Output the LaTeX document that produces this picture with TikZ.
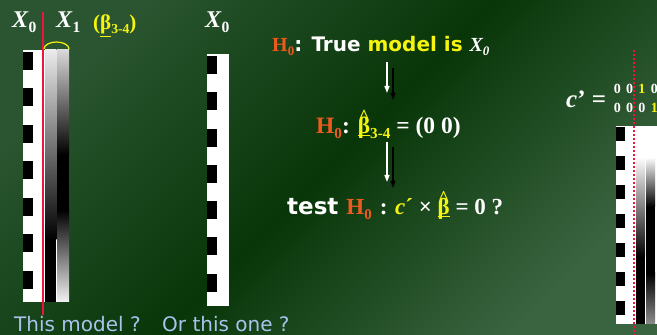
\documentclass[tikz,border=0pt]{standalone}
\usepackage{fontspec}
\setmainfont{Liberation Serif}
\setsansfont{DejaVu Sans}
\usepackage{graphicx}
\usepackage{tikz}
\usetikzlibrary{arrows.meta,positioning,calc}
\definecolor{bgTL}{HTML}{2A5530}
\definecolor{bgMid}{HTML}{083608}
\definecolor{bgBR}{HTML}{3A6440}
\definecolor{hOrange}{HTML}{EE5A1E}
\definecolor{hYellow}{HTML}{F5F50F}
\definecolor{capBlue}{HTML}{A9C3EC}
\definecolor{sepRed}{HTML}{F0143C}
\newcommand{\lsub}[1]{\raisebox{-0.4ex}{\scalebox{0.65}{#1}}}
\newcommand{\Xsym}[1]{\textit{X}\lsub{#1}}
\newcommand{\Hnull}{\textcolor{hOrange}{\rmfamily H\lsub{0}}}
\newcommand{\bhat}{\underline{\ooalign{β\cr\hidewidth\raisebox{0.5em}{\scalebox{0.8}{\textasciicircum}}\hidewidth\cr}}}
\newcommand{\dg}[1]{\makebox[12.3pt]{#1}}

\begin{document}
\begin{tikzpicture}[
  x=1pt, y=1pt,
  lbl/.style={font=\fontsize{23.5}{27}\selectfont\bfseries, text=white, inner sep=0pt, anchor=base west},
  xlbl/.style={lbl, font=\fontsize{24}{28}\selectfont\bfseries},
  hline/.style={lbl, font=\fontsize{20}{24}\selectfont\sffamily\bfseries},
  tline/.style={lbl, font=\fontsize{23}{27}\selectfont\sffamily\bfseries},
  capt/.style={lbl, font=\fontsize{20}{24}\selectfont\sffamily, text=capBlue},
  mrow/.style={lbl, font=\fontsize{14}{16}\selectfont\bfseries},
  warr/.style={-{Triangle[length=7pt,width=5pt]}, draw=white, line width=1.4pt},
  barr/.style={warr, draw=black}
]

\useasboundingbox (0,0) rectangle (657,335);
\shade[top color=bgTL, bottom color=bgBR, middle color=bgMid, shading angle=45] (0,0) rectangle (657,335);

% design matrix X0 X1
\fill[white] (23,33) rectangle (69,285);
\foreach \i in {0,...,6}
  \fill[black] (23,{283-36.5*\i}) rectangle ++(10,-18);
\shade[top color=white!92!black, bottom color=black] (45,95) rectangle (56.3,285);
\fill[black] (45,33) rectangle (56.3,95);
\shade[top color=white!85!black, bottom color=black] (57,180) rectangle (69,285);
\fill[black] (57,125) rectangle (69,180);
\shade[top color=black, bottom color=white!95!black] (57,33) rectangle (69,125);
\draw[sepRed, line width=1.3pt] (43,20) -- (43,323);
\draw[hYellow, line width=1.2pt] (44,286) arc[start angle=180, end angle=0, x radius=12.5, y radius=7];

% design matrix X0
\fill[white] (207,29) rectangle (229,281);
\foreach \i in {0,...,6}
  \fill[black] (207,{279-36.3*\i}) rectangle ++(10,-18);

% design matrix with contrast
\fill[white] (616,11) rectangle (657,209);
\foreach \i in {0,...,6}
  \fill[black] (616,{208-29*\i}) rectangle ++(9,-14);
\shade[top color=white, bottom color=black] (636,78) rectangle (645,178);
\fill[black] (636,11) rectangle (645,78);
\shade[top color=white, bottom color=black] (646,128) rectangle (655,178);
\fill[black] (646,62) rectangle (655,128);
\shade[top color=black, bottom color=white!55!black] (646,11) rectangle (655,62);
\draw[sepRed, line width=1.6pt, dash pattern=on 2pt off 2pt] (634,285) -- (634,0);

\node[xlbl] (xa) at (12,307) {\Xsym{0}};
\node[xlbl] (xb) at (56,307) {\Xsym{1}};
\node[lbl, text=hYellow, font=\fontsize{21}{25}\selectfont\bfseries] (bsel) at (93,305) {(\underline{β}\lsub{3-4})};
\node[xlbl] (xc) at (205,307) {\Xsym{0}};

\node[hline] (hyp) at (272,283) {\Hnull: True \textcolor{hYellow}{model is} {\rmfamily\itshape\Xsym{0}}};
\node[lbl] (est) at (316,201) {\Hnull: \textcolor{hYellow}{\bhat\lsub{3-4}} = (0 0)};
\node[tline] (tst) at (287,120) {test \Hnull\ {\rmfamily: \textcolor{hYellow}{\textit{c}´} × \textcolor{hYellow}{\bhat} = 0 ?}};

\coordinate (w1s) at (387,273); \coordinate (w1e) at (387,242);
\coordinate (b1s) at (393,267); \coordinate (b1e) at (393,235);
\coordinate (w2s) at (387,193); \coordinate (w2e) at (387,153);
\coordinate (b2s) at (393,188); \coordinate (b2e) at (393,147);
\draw[warr] (w1s) -- (w1e);
\draw[barr] (b1s) -- (b1e);
\draw[warr] (w2s) -- (w2e);
\draw[barr] (b2s) -- (b2e);

\node[capt] (cpa) at (14,3.5) {This model ?};
\node[capt] (cpb) at (162,3.5) {Or this one ?};

\node[lbl, font=\fontsize{25}{29}\selectfont\bfseries] (cpr) at (566,227) {\textit{c}\textquoteright\ =};
\node[mrow] (row1) at (611,241) {\dg{0}\dg{0}\dg{\textcolor{hYellow}{1}}\dg{0}};
\node[mrow] (row2) at (611,222) {\dg{0}\dg{0}\dg{0}\dg{\textcolor{hYellow}{1}}};

\end{tikzpicture}
\end{document}
